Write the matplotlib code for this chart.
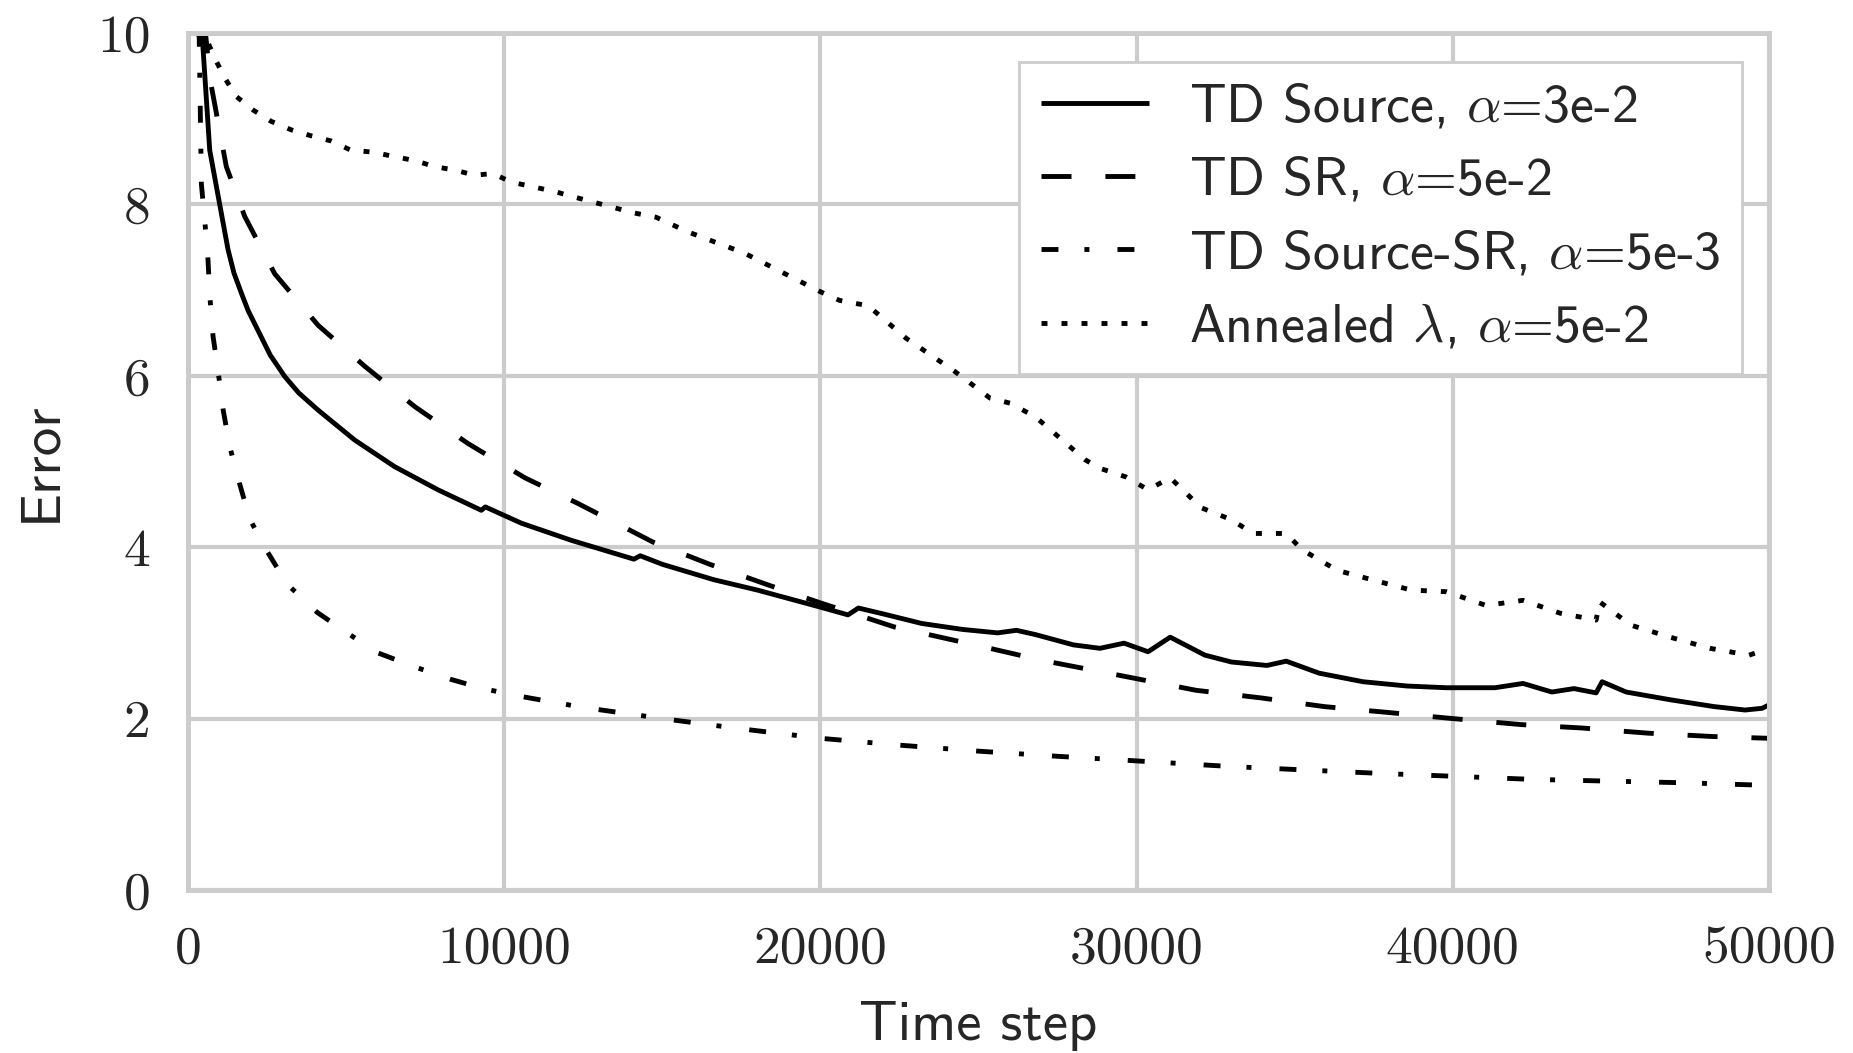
import matplotlib
matplotlib.use("Agg")
import matplotlib.pyplot as plt

# ---------------- data ----------------
src_x = [250, 450, 685, 1000, 1265, 1450, 1690, 1900, 2210, 2600, 3060, 3500, 4110, 5270,
         6530, 7900, 9275, 9400, 10540, 12120, 14100, 14300, 15000, 16630, 18000, 20000,
         20870, 21200, 22000, 23200, 24500, 25600, 26200, 26800, 28000, 28840, 29600, 30360,
         31060, 32160, 33000, 34120, 34730, 35770, 37160, 38550, 39800, 41330, 42220, 43130,
         43830, 44530, 44720, 45480, 46870, 48260, 49240, 49780, 50000]
src_y = [10.0, 9.95, 8.63, 8.0, 7.47, 7.2, 6.96, 6.76, 6.53, 6.24, 5.99, 5.80, 5.60, 5.25,
         4.94, 4.67, 4.43, 4.47, 4.28, 4.08, 3.86, 3.90, 3.80, 3.62, 3.50, 3.30,
         3.21, 3.29, 3.22, 3.11, 3.04, 3.00, 3.03, 2.98, 2.86, 2.82, 2.88, 2.78,
         2.95, 2.74, 2.66, 2.62, 2.67, 2.53, 2.43, 2.38, 2.36, 2.36, 2.41, 2.31,
         2.35, 2.30, 2.43, 2.31, 2.22, 2.14, 2.10, 2.12, 2.16]

sr_x = [250, 550, 700, 1210, 1790, 2740, 4110, 5590, 7170, 8850, 10650, 12330, 14700, 16500,
        18340, 20000, 22330, 25000, 27000, 29380, 31880, 33960, 35930, 37990, 40000, 42160,
        44090, 46170, 48260, 50000]
sr_y = [10.0, 10.0, 9.45, 8.44, 7.86, 7.19, 6.59, 6.11, 5.64, 5.21, 4.81, 4.51, 4.06, 3.8,
        3.56, 3.35, 3.07, 2.85, 2.68, 2.51, 2.33, 2.24, 2.14, 2.07, 2.0, 1.93,
        1.89, 1.83, 1.79, 1.77]

ssr_x = [250, 350, 420, 530, 630, 690, 790, 950, 1110, 1320, 1630, 1950, 2420, 3130, 4080,
         5030, 5980, 7120, 8290, 9330, 10500, 12500, 15000, 17500, 20000, 22500, 25000,
         27500, 29380, 33000, 37720, 42570, 47440, 50000]
ssr_y = [10.0, 10.0, 8.24, 7.80, 7.35, 6.92, 6.46, 6.05, 5.60, 5.17, 4.74, 4.33, 4.0, 3.57,
         3.24, 3.0, 2.77, 2.61, 2.46, 2.35, 2.26, 2.13, 2.0, 1.88, 1.77, 1.69, 1.62,
         1.56, 1.52, 1.44, 1.36, 1.29, 1.25, 1.22]

ann_x = [250, 500, 850, 1170, 1520, 2060, 2620, 3260, 3890, 4520, 5160, 5850, 6480, 7180,
         7800, 8440, 9060, 9640, 10220, 11590, 12170, 14100, 14800, 15800, 17600, 20000, 20600,
         21000, 21500, 22700, 24250, 25360, 26000, 26800, 28370, 28840, 29660, 30360, 31060,
         32040, 33000, 33680, 34730, 35230, 36340, 37440, 38680, 39800, 41050, 42220, 43390,
         44530, 44650, 45630, 46870, 48130, 49370, 50000]
ann_y = [10.0, 10.0, 9.7, 9.47, 9.26, 9.10, 8.97, 8.87, 8.80, 8.74, 8.63, 8.61, 8.56, 8.51,
         8.44, 8.40, 8.34, 8.36, 8.26, 8.15, 8.09, 7.9, 7.85, 7.68, 7.43, 6.98, 6.88,
         6.85, 6.82, 6.44, 6.05, 5.74, 5.68, 5.52, 5.02, 4.92, 4.82, 4.67, 4.81,
         4.46, 4.32, 4.16, 4.16, 3.97, 3.73, 3.62, 3.50, 3.48, 3.32, 3.38, 3.23,
         3.15, 3.36, 3.09, 2.95, 2.82, 2.74, 2.82]

labels = [r"TD Source, $\alpha$=3e-2",
          r"TD SR, $\alpha$=5e-2",
          r"TD Source-SR, $\alpha$=5e-3",
          r"Annealed $\lambda$, $\alpha$=5e-2"]

xticks = [0, 10000, 20000, 30000, 40000, 50000]
xtick_labels = ["0", "10000", "20000", "30000", "40000", "50000"]
yticks = [0, 2, 4, 6, 8, 10]
ytick_labels = ["0", "2", "4", "6", "8", "10"]
xlabel = "Time step"
ylabel = "Error"

# ---------------- style ----------------
plt.rcParams["mathtext.fontset"] = "cm"
plt.rcParams["lines.scale_dashes"] = False
plt.rcParams["font.family"] = ["cmss10", "DejaVu Sans"]
plt.rcParams["axes.unicode_minus"] = False

TXT = "#262626"
GRID = "#cccccc"

fig = plt.figure(figsize=(18.53, 10.53), dpi=100)
ax = fig.add_axes([0.1015, 0.1548, 0.9547 - 0.1015, 0.9687 - 0.1548])

lw = 3.5
ax.plot(src_x, src_y, color="k", lw=lw, linestyle="-", label=labels[0], solid_capstyle="butt")
ax.plot(sr_x, sr_y, color="k", lw=lw, linestyle=(0, (21.6, 24.4)), label=labels[1],
        dash_capstyle="butt")
ax.plot(ssr_x, ssr_y, color="k", lw=lw, linestyle=(0, (12.2, 18.7, 3.6, 20.2)), label=labels[2],
        dash_capstyle="butt")
ax.plot(ann_x, ann_y, color="k", lw=lw, linestyle=(0, (4.3, 10.1)), label=labels[3],
        dash_capstyle="butt")

ax.set_xlim(0, 50000)
ax.set_ylim(0, 10)
ax.set_xticks(xticks)
ax.set_xticklabels(xtick_labels, fontfamily="cmr10", fontsize=38.5, color=TXT)
ax.set_yticks(yticks)
ax.set_yticklabels(ytick_labels, fontfamily="cmr10", fontsize=38.5, color=TXT)
ax.tick_params(axis="both", length=0)
ax.tick_params(axis="y", pad=27)
ax.tick_params(axis="x", pad=26)

ax.grid(True, color=GRID, lw=3.0)
ax.set_axisbelow(True)
for s in ax.spines.values():
    s.set_color(GRID)
    s.set_linewidth(3.6)

ax.set_xlabel(xlabel, fontsize=41, color=TXT, labelpad=20)
ax.set_ylabel(ylabel, fontsize=41, color=TXT, labelpad=22)

leg = ax.legend(loc="upper right", bbox_to_anchor=(0.983, 0.966), borderaxespad=0,
                fontsize=38.8, frameon=True, fancybox=False, handlelength=2.0,
                handletextpad=0.75, labelspacing=0.45, borderpad=0.4)
leg.get_frame().set_edgecolor(GRID)
leg.get_frame().set_linewidth(2.0)
leg.get_frame().set_alpha(1.0)
for t in leg.get_texts():
    t.set_color(TXT)

fig.savefig("out.png", dpi=100)
